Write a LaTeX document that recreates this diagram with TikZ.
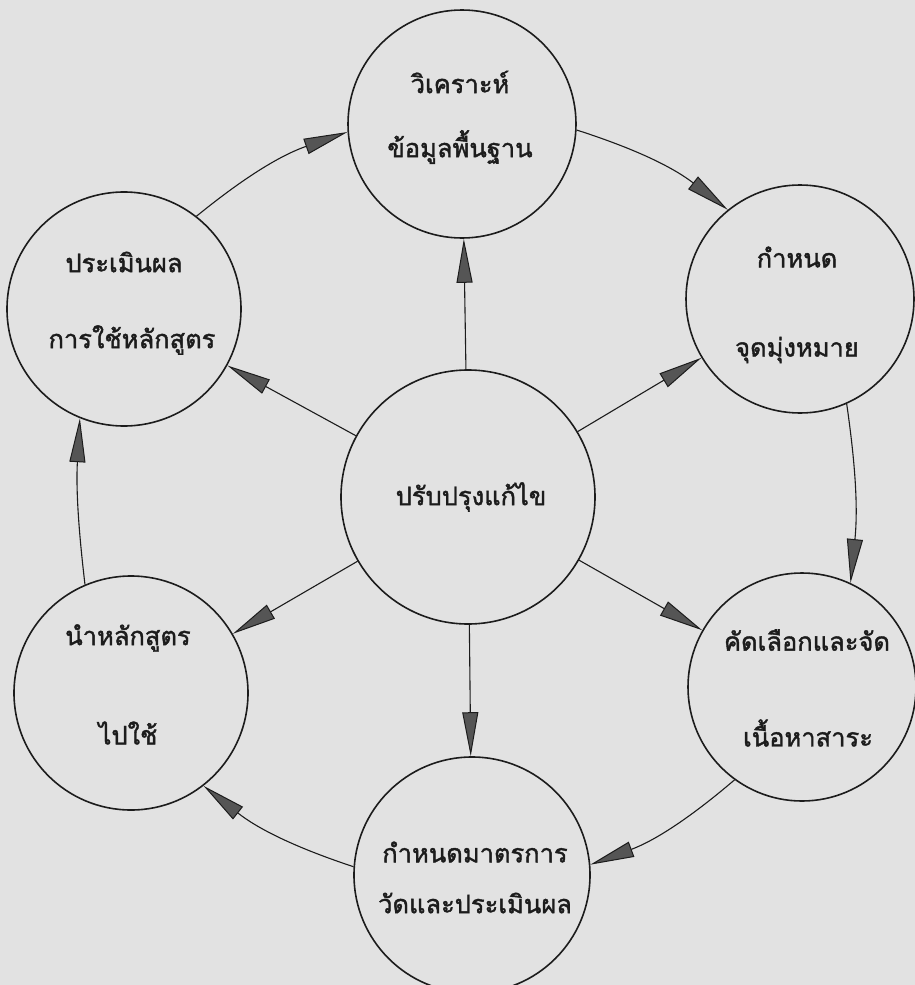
\documentclass[tikz,border=0pt]{standalone}
\usepackage{fontspec}
\newfontfamily\thaifont[Script=Thai,FakeBold=1.5]{Loma}
\usetikzlibrary{arrows.meta}
\definecolor{paper}{RGB}{226,226,226}
\definecolor{ink}{RGB}{28,28,28}
\definecolor{headfill}{RGB}{85,85,85}
\tikzset{
  bubble/.style={circle, draw=ink, line width=1.6pt, inner sep=0pt},
  label/.style={font=\thaifont\fontsize{25.5}{30}\selectfont, text=ink, inner sep=0pt},
  link/.style={draw=ink, line width=1.1pt,
    -{Triangle[length=44pt, width=16pt, fill=headfill, line width=1pt]}},
}
\begin{document}
\begin{tikzpicture}[x=1pt, y=-1pt]
  \fill[paper] (0,0) rectangle (915,985);
  \useasboundingbox (0,0) rectangle (915,985);

  % circles
  \node[bubble, minimum size=254pt] (hub) at (468,497) {};
  \node[bubble, minimum size=228pt] (c1)  at (462,124) {};
  \node[bubble, minimum size=228pt] (c2)  at (800,299) {};
  \node[bubble, minimum size=228pt] (c3)  at (802,687) {};
  \node[bubble, minimum size=236pt] (c4)  at (472,875) {};
  \node[bubble, minimum size=234pt] (c5)  at (131,693) {};
  \node[bubble, minimum size=234pt] (c6)  at (124,309) {};

  % labels
  \node[label] (hubt) at (471,497) {ปรับปรุงแก้ไข};
  \node[label] (c1a) at (460,82)  {วิเคราะห์};
  \node[label] (c1b) at (460,147) {ข้อมูลพื้นฐาน};
  \node[label] (c2a) at (797,257) {กำหนด};
  \node[label] (c2b) at (797,350) {จุดมุ่งหมาย};
  \node[label] (c3a) at (807,640) {คัดเลือกและจัด};
  \node[label] (c3b) at (808,733) {เนื้อหาสาระ};
  \node[label] (c4a) at (475,852) {กำหนดมาตรการ};
  \node[label] (c4b) at (475,903) {วัดและประเมินผล};
  \node[label] (c5a) at (128,638) {นำหลักสูตร};
  \node[label] (c5b) at (128,733) {ไปใช้};
  \node[label] (c6a) at (124,262) {ประเมินผล};
  \node[label] (c6b) at (132,340) {การใช้หลักสูตร};

  % spokes from the hub
  \foreach \t in {c1,c2,c3,c4,c5,c6}
    \draw[link] (hub) -- (\t);

  % outer cycle
  \draw[link] (c1.-3)  to[bend left=10] (c2.129);
  \draw[link] (c2.-66) to[bend left=7]  (c3.65);
  \draw[link] (c3.234) to[bend left=10] (c4.5);
  \draw[link] (c4.176) to[bend left=10] (c5.-52);
  \draw[link] (c5.113) to[bend left=5]  (c6.248);
  \draw[link] (c6.52)  to[bend left=10] (c1.184);
\end{tikzpicture}
\end{document}
